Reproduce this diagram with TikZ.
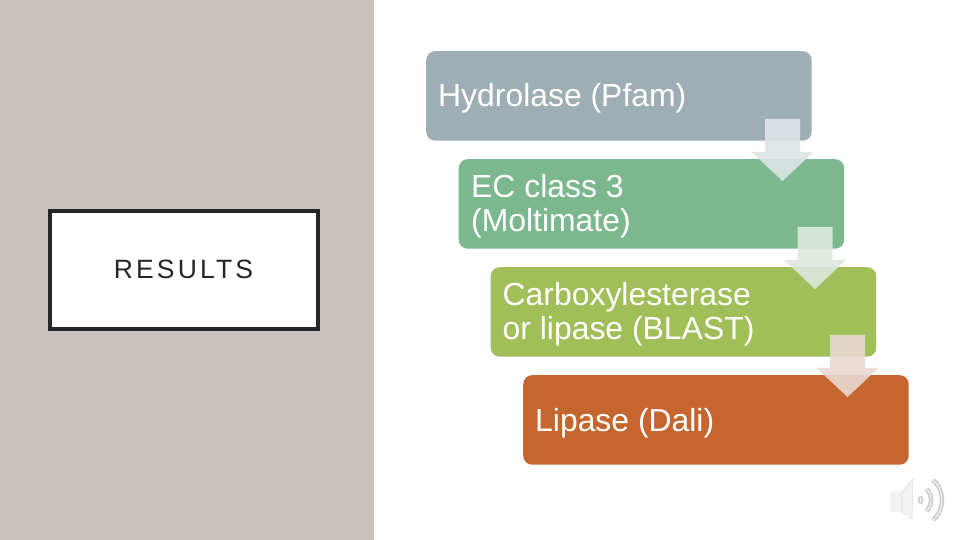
\documentclass[tikz,border=0pt]{standalone}
\usepackage{fontspec}
\setmainfont{Liberation Sans}
\definecolor{panel}{HTML}{C8C3BD}
\definecolor{ink}{HTML}{262626}
\definecolor{cA}{HTML}{9DAEB5}
\definecolor{cB}{HTML}{7CB88D}
\definecolor{cC}{HTML}{A0BF58}
\definecolor{cD}{HTML}{C5662F}
\definecolor{aA}{HTML}{DEE5E7}
\definecolor{aB}{HTML}{DDE8DD}
\definecolor{aC}{HTML}{E9D9D3}
\tikzset{
  stepbox/.style={rounded corners=9pt,minimum width=385.5pt,minimum height=89.5pt,anchor=north west,inner sep=0pt},
  steptext/.style={anchor=west,align=left,text=white,font=\fontsize{31.9}{34}\selectfont,inner sep=0pt},
  downarrow/.style={fill opacity=.9,draw=none}
}
\begin{document}
\begin{tikzpicture}[x=1pt,y=1pt]
\useasboundingbox (0,0) rectangle (960,540);
\fill[white] (0,0) rectangle (960,540);
\fill[panel] (0,0) rectangle (374,540);
\node[draw=ink,fill=white,line width=3.6pt,minimum width=268pt,minimum height=118pt,inner sep=0pt] (title) at (184,270) {};
\node[text=ink,inner sep=0pt] (titletext) at (183.5,271)
  {\fontsize{26.5}{30}\selectfont\addfontfeature{LetterSpace=12}RESULTS};
\node[stepbox,fill=cA] (b1) at (426,489) {};
\node[stepbox,fill=cB] (b2) at (458.5,381) {};
\node[stepbox,fill=cC] (b3) at (490.5,273) {};
\node[stepbox,fill=cD] (b4) at (523,165) {};
\node[steptext] (t1) at (438,441.5) {Hydrolase (Pfam)};
\node[steptext] (t2) at (471,333.5) {EC class 3\\(Moltimate)};
\node[steptext] (t3) at (502.5,225.5) {Carboxylesterase\\or lipase (BLAST)};
\node[steptext] (t4) at (535,116.5) {Lipase (Dali)};
\coordinate (a1) at (765,421);
\coordinate (a2) at (797.5,313);
\coordinate (a3) at (830,205);
\fill[downarrow,fill=aA] (a1) -- ++(35,0) -- ++(0,-33) -- ++(13.5,0) -- ++(-31,-29) -- ++(-31,29) -- ++(13.5,0) -- cycle;
\fill[downarrow,fill=aB] (a2) -- ++(35,0) -- ++(0,-33) -- ++(13.5,0) -- ++(-31,-29) -- ++(-31,29) -- ++(13.5,0) -- cycle;
\fill[downarrow,fill=aC] (a3) -- ++(35,0) -- ++(0,-33) -- ++(13.5,0) -- ++(-31,-29) -- ++(-31,29) -- ++(13.5,0) -- cycle;
% speaker icon
\fill[gray!10] (890,48) rectangle (902,28);
\fill[gray!10,draw=gray!30,line width=.5pt] (902,28) -- (912,21) -- (913,61) -- (902,48) -- cycle;
\foreach \r/\a in {6/38,16/45,27/48}{
  \draw[gray!40,line width=1.8pt,double=white,double distance=.8pt] ([shift={(-\a:\r)}]915,40) arc[start angle=-\a,end angle=\a,radius=\r];
}
\end{tikzpicture}
\end{document}
